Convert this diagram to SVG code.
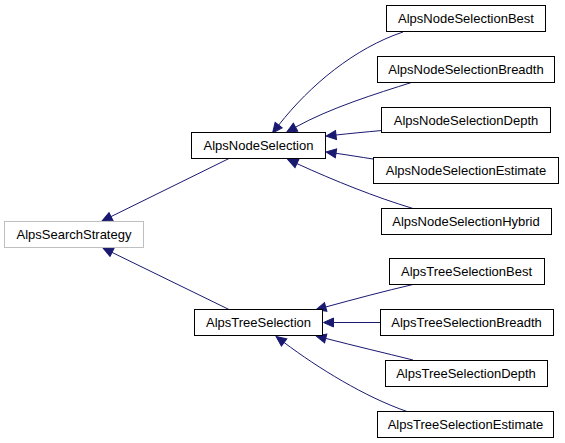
<svg xmlns="http://www.w3.org/2000/svg" width="565" height="443" viewBox="0 0 565 443">
<style>
  .box { fill: #ffffff; stroke: #000000; stroke-width: 1; }
  .gbox { fill: #ffffff; stroke: #bfbfbf; stroke-width: 1; }
  .lbl { font-family: "Liberation Sans", Arial, sans-serif; font-size: 13px; fill: #000000; text-anchor: middle; }
  .edge { fill: none; stroke: #191970; stroke-width: 1; marker-end: url(#arr); }
</style>
<defs>
  <marker id="arr" markerUnits="userSpaceOnUse" viewBox="-1 -6 12 12" refX="0" refY="0" markerWidth="12" markerHeight="12" orient="auto">
    <path d="M0,-4.5 L10,0 L0,4.5 Z" fill="#191970" stroke="#191970" stroke-width="1"/>
  </marker>
</defs>
<rect width="565" height="443" fill="#ffffff"/>
<g id="connectors">
  <path class="edge" d="M230,158 L111,216.6"/>
  <path class="edge" d="M230,310 L112,252.4"/>
  <path class="edge" d="M403,32 C355,48 310,85 278.7,125.1"/>
  <path class="edge" d="M413,82 C375,94 330,108 295.5,127.2"/>
  <path class="edge" d="M382,130.5 C365,132 350,133.5 336,135"/>
  <path class="edge" d="M373,159 C360,157 348,155 336,153.3"/>
  <path class="edge" d="M413,208.5 C375,197 335,181 296.9,163.6"/>
  <path class="edge" d="M413,284.5 C385,291 355,299 325.7,307"/>
  <path class="edge" d="M380,322.5 L333.5,322.5"/>
  <path class="edge" d="M413,360 C385,353 355,346 325.7,338.4"/>
  <path class="edge" d="M407,411.5 C365,397 318,368 284.1,342.5"/>
</g>
<g id="AlpsSearchStrategy">
  <rect class="gbox" x="4.5" y="221.5" width="139" height="26"/>
  <text class="lbl" x="74" y="239">AlpsSearchStrategy</text>
</g>
<g id="AlpsNodeSelection">
  <rect class="box" x="191.5" y="132.5" width="134" height="26"/>
  <text class="lbl" x="258.5" y="150">AlpsNodeSelection</text>
</g>
<g id="AlpsTreeSelection">
  <rect class="box" x="194.5" y="309.5" width="128" height="26"/>
  <text class="lbl" x="258.5" y="327">AlpsTreeSelection</text>
</g>
<g id="AlpsNodeSelectionBest">
  <rect class="box" x="386.5" y="5.5" width="159" height="26"/>
  <text class="lbl" x="466" y="23">AlpsNodeSelectionBest</text>
</g>
<g id="AlpsNodeSelectionBreadth">
  <rect class="box" x="377.5" y="56.5" width="177" height="26"/>
  <text class="lbl" x="466" y="74">AlpsNodeSelectionBreadth</text>
</g>
<g id="AlpsNodeSelectionDepth">
  <rect class="box" x="381.5" y="107.5" width="169" height="25"/>
  <text class="lbl" x="466" y="124.5">AlpsNodeSelectionDepth</text>
</g>
<g id="AlpsNodeSelectionEstimate">
  <rect class="box" x="373.5" y="157.5" width="185" height="26"/>
  <text class="lbl" x="466" y="175">AlpsNodeSelectionEstimate</text>
</g>
<g id="AlpsNodeSelectionHybrid">
  <rect class="box" x="381.5" y="208.5" width="170" height="26"/>
  <text class="lbl" x="466" y="226">AlpsNodeSelectionHybrid</text>
</g>
<g id="AlpsTreeSelectionBest">
  <rect class="box" x="389.5" y="258.5" width="155" height="26"/>
  <text class="lbl" x="466.5" y="276">AlpsTreeSelectionBest</text>
</g>
<g id="AlpsTreeSelectionBreadth">
  <rect class="box" x="380.5" y="309.5" width="173" height="26"/>
  <text class="lbl" x="466.5" y="327">AlpsTreeSelectionBreadth</text>
</g>
<g id="AlpsTreeSelectionDepth">
  <rect class="box" x="385.5" y="360.5" width="162" height="26"/>
  <text class="lbl" x="466" y="378">AlpsTreeSelectionDepth</text>
</g>
<g id="AlpsTreeSelectionEstimate">
  <rect class="box" x="377.5" y="411.5" width="176" height="26"/>
  <text class="lbl" x="465.5" y="429">AlpsTreeSelectionEstimate</text>
</g>
</svg>
